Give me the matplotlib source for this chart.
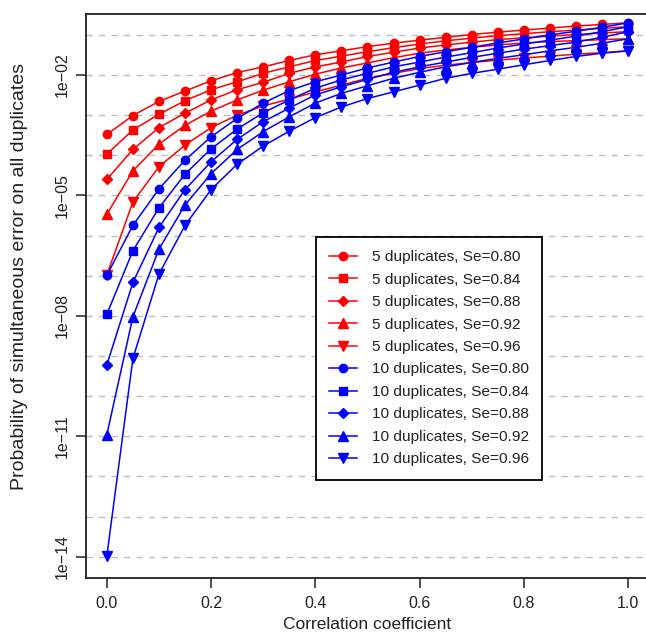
import numpy as np
import matplotlib
matplotlib.use('Agg')
import matplotlib.pyplot as plt
from matplotlib.ticker import LogLocator, NullFormatter, FixedLocator

plt.rcParams['font.family'] = ['Liberation Sans', 'DejaVu Sans']

# correlation coefficient (x)
corr = [0.00, 0.05, 0.10, 0.15, 0.20, 0.25, 0.30, 0.35, 0.40, 0.45, 0.50,
        0.55, 0.60, 0.65, 0.70, 0.75, 0.80, 0.85, 0.90, 0.95, 1.00]

# 5 duplicates
dup5_se80 = [3.3e-4, 9.8e-4, 2.2e-3, 4.0e-3, 7.2e-3, 1.15e-2, 1.6e-2, 2.3e-2, 3.2e-2, 4.0e-2, 5.1e-2,
             6.2e-2, 7.4e-2, 8.7e-2, 0.102, 0.117, 0.132, 0.148, 0.166, 0.182, 0.2]
dup5_se84 = [1.07e-4, 4.3e-4, 1.05e-3, 2.3e-3, 4.3e-3, 6.8e-3, 1.1e-2, 1.6e-2, 2.3e-2, 2.95e-2, 3.8e-2,
             4.8e-2, 5.9e-2, 7.1e-2, 8.3e-2, 9.5e-2, 0.107, 0.12, 0.132, 0.145, 0.16]
dup5_se88 = [2.5e-5, 1.4e-4, 4.9e-4, 1.12e-3, 2.4e-3, 4.3e-3, 6.6e-3, 1.1e-2, 1.6e-2, 2.1e-2, 2.9e-2,
             3.7e-2, 4.7e-2, 5.6e-2, 6.6e-2, 7.6e-2, 8.5e-2, 9.3e-2, 0.102, 0.112, 0.12]
dup5_se92 = [3.4e-6, 4.1e-5, 1.9e-4, 5.6e-4, 1.26e-3, 2.4e-3, 4.2e-3, 6.8e-3, 1.05e-2, 1.5e-2, 2.0e-2,
             2.7e-2, 3.5e-2, 4.2e-2, 4.9e-2, 5.6e-2, 6.3e-2, 6.8e-2, 7.2e-2, 7.6e-2, 0.08]
dup5_se96 = [1.05e-7, 6.9e-6, 5.2e-5, 1.8e-4, 4.9e-4, 1.0e-3, 1.7e-3, 2.5e-3, 3.8e-3, 5.6e-3, 8.3e-3,
             1.1e-2, 1.45e-2, 1.75e-2, 2.05e-2, 2.35e-2, 2.65e-2, 2.95e-2, 3.3e-2, 3.6e-2, 0.04]

# 10 duplicates
dup10_se80 = [1.02e-7, 1.8e-6, 1.45e-5, 7.6e-5, 2.9e-4, 8.3e-4, 2.0e-3, 4.1e-3, 6.8e-3, 1.0e-2, 1.5e-2,
              2.1e-2, 2.9e-2, 3.8e-2, 4.9e-2, 6.3e-2, 7.9e-2, 0.1, 0.123, 0.155, 0.2]
dup10_se84 = [1.1e-8, 4.2e-7, 4.9e-6, 3.4e-5, 1.45e-4, 4.5e-4, 1.15e-3, 2.4e-3, 4.7e-3, 7.6e-3, 1.1e-2,
              1.6e-2, 2.1e-2, 2.8e-2, 3.6e-2, 4.7e-2, 5.9e-2, 7.4e-2, 9.3e-2, 0.12, 0.16]
dup10_se88 = [6.0e-10, 6.8e-8, 1.6e-6, 1.4e-5, 6.9e-5, 2.5e-4, 6.9e-4, 1.5e-3, 3.2e-3, 5.1e-3, 7.8e-3,
              1.17e-2, 1.6e-2, 2.1e-2, 2.75e-2, 3.5e-2, 4.4e-2, 5.4e-2, 6.6e-2, 8.7e-2, 0.12]
dup10_se92 = [1.1e-11, 9.5e-9, 4.6e-7, 5.8e-6, 3.5e-5, 1.4e-4, 3.9e-4, 9.1e-4, 2.0e-3, 3.5e-3, 5.4e-3,
              8.3e-3, 1.17e-2, 1.6e-2, 2.05e-2, 2.6e-2, 3.2e-2, 4.0e-2, 4.9e-2, 6.2e-2, 0.08]
dup10_se96 = [1.05e-14, 8.7e-10, 1.1e-7, 1.8e-6, 1.4e-5, 6.0e-5, 1.7e-4, 4.0e-4, 8.7e-4, 1.6e-3, 2.6e-3,
              3.8e-3, 5.6e-3, 8.3e-3, 1.1e-2, 1.4e-2, 1.8e-2, 2.3e-2, 2.9e-2, 3.5e-2, 0.04]

labels = ['5 duplicates, Se=0.80', '5 duplicates, Se=0.84', '5 duplicates, Se=0.88',
          '5 duplicates, Se=0.92', '5 duplicates, Se=0.96',
          '10 duplicates, Se=0.80', '10 duplicates, Se=0.84', '10 duplicates, Se=0.88',
          '10 duplicates, Se=0.92', '10 duplicates, Se=0.96']
series = [dup5_se80, dup5_se84, dup5_se88, dup5_se92, dup5_se96,
          dup10_se80, dup10_se84, dup10_se88, dup10_se92, dup10_se96]
markers = ['o', 's', 'D', '^', 'v']
msizes = [6, 6, 5.5, 6.5, 6.5]

fig = plt.figure(figsize=(6.46, 6.35), dpi=100)
ax = fig.add_axes([86/646, 57/635, 563/646, 564/635])

for i, (y, lab) in enumerate(zip(series, labels)):
    col = 'red' if i < 5 else 'blue'
    ax.plot(corr, y, color=col, marker=markers[i % 5], markersize=msizes[i % 5],
            linewidth=1.1, label=lab, zorder=3)

ax.set_yscale('log')
ax.set_xlim(-0.04, 1.04)
ax.set_ylim(10**-14.53, 10**-0.48)

# major ticks every 3 decades, grid at every decade
ax.yaxis.set_major_locator(FixedLocator([1e-14, 1e-11, 1e-8, 1e-5, 1e-2]))
ax.set_yticklabels(['1e\u221214', '1e\u221211', '1e\u221208', '1e\u221205', '1e\u221202'])
ax.yaxis.set_minor_locator(LogLocator(base=10, subs=(1.0,), numticks=30))
ax.yaxis.set_minor_formatter(NullFormatter())
ax.set_xticks([0.0, 0.2, 0.4, 0.6, 0.8, 1.0])
ax.set_xticklabels(['0.0', '0.2', '0.4', '0.6', '0.8', '1.0'])

ax.grid(False, axis='x')
ax.grid(True, axis='y', which='both', color='#bdbdbd', linestyle=(0, (4.5, 4.5)), linewidth=1.0, zorder=0)
ax.set_axisbelow(True)

ax.tick_params(axis='both', which='major', length=7, width=1.2, labelsize=11.5, color='#333333',
               labelcolor='#222222')
ax.tick_params(axis='y', which='minor', length=0)
ax.tick_params(axis='y', pad=5)
ax.tick_params(axis='x', pad=6)
for t in ax.get_yticklabels():
    t.set_rotation(90)
    t.set_va('center')

for s in ax.spines.values():
    s.set_linewidth(1.3)
    s.set_color('#222222')

ax.set_xlabel('Correlation coefficient', fontsize=12.5, labelpad=4, color='#222222')
ax.set_ylabel('Probability of simultaneous error on all duplicates', fontsize=14, color='#222222')
ax.yaxis.set_label_coords(-0.103, 0.535)

leg = ax.legend(loc='upper left', bbox_to_anchor=((316 - 86) / 563, (578 - 237) / 564),
                frameon=True, fancybox=False, edgecolor='black', framealpha=1,
                fontsize=11.1, handlelength=1.8, handletextpad=1.0, labelspacing=0.55,
                borderpad=0.85, borderaxespad=0)
leg.get_frame().set_linewidth(1.3)
for t in leg.get_texts():
    t.set_color('#222222')

plt.savefig('out.png', dpi=100)
